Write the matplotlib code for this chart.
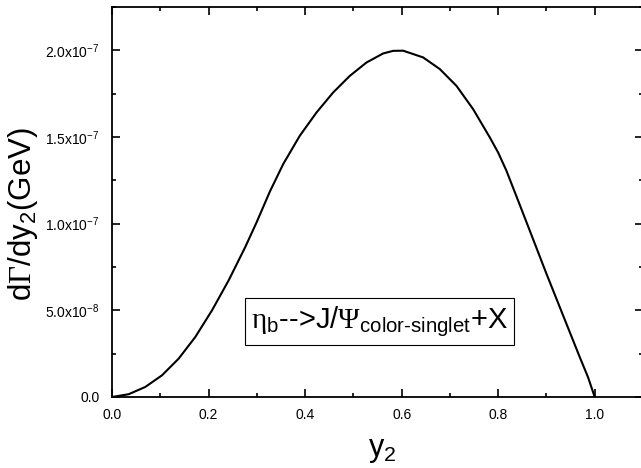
import matplotlib
matplotlib.use("Agg")
import matplotlib.pyplot as plt
from matplotlib.ticker import FixedLocator, FixedFormatter, MultipleLocator

plt.rcParams['font.family'] = ['Liberation Sans', 'DejaVu Sans']
plt.rcParams['mathtext.fontset'] = 'custom'
plt.rcParams['mathtext.rm'] = 'Liberation Sans'
plt.rcParams['mathtext.it'] = 'Liberation Sans:italic'
plt.rcParams['mathtext.bf'] = 'Liberation Sans:bold'
plt.rcParams['mathtext.sf'] = 'Liberation Sans'
plt.rcParams['mathtext.tt'] = 'Liberation Serif'

# data (y in GeV)
y2 = [0, 0.0345, 0.069, 0.1035, 0.138, 0.1725, 0.207, 0.2415, 0.276, 0.2996,
      0.327, 0.3547, 0.389, 0.4238, 0.4582, 0.4928, 0.5273, 0.5617, 0.5825,
      0.6031, 0.6446, 0.679, 0.7136, 0.748, 0.7826, 0.8, 0.817, 0.8413, 0.8654,
      0.900, 0.9344, 0.969, 0.986, 1.0]
rate_e7 = [0, 0.016, 0.058, 0.125, 0.221, 0.346, 0.499, 0.672, 0.865, 1.008,
           1.185, 1.344, 1.507, 1.642, 1.757, 1.853, 1.930, 1.982, 1.997,
           1.998, 1.959, 1.892, 1.795, 1.661, 1.498, 1.41, 1.306, 1.133, 0.960,
           0.711, 0.471, 0.230, 0.115, 0]
rate = [v * 1e-7 for v in rate_e7]

xticks = [0.0, 0.2, 0.4, 0.6, 0.8, 1.0]
xticklabels = ['0.0', '0.2', '0.4', '0.6', '0.8', '1.0']
yticks = [0.0, 5.0e-8, 1.0e-7, 1.5e-7, 2.0e-7]
yticklabels = ['0.0', r'5.0x10$^{\mathregular{-8}}$', r'1.0x10$^{\mathregular{-7}}$',
               r'1.5x10$^{\mathregular{-7}}$', r'2.0x10$^{\mathregular{-7}}$']

fig = plt.figure(figsize=(6.41, 4.68), dpi=100)
W, H = 641, 468
L, R, T, B = 112, 643, 7, 397
ax = fig.add_axes([L / W, (H - B) / H, (R - L) / W, (B - T) / H])

ax.plot(y2, rate, color='black', lw=1.5)
ax.set_xlim(0, 1.1)
ax.set_ylim(0, 2.25e-7)

ax.xaxis.set_major_locator(FixedLocator(xticks))
ax.xaxis.set_major_formatter(FixedFormatter(xticklabels))
ax.xaxis.set_minor_locator(MultipleLocator(0.1))
ax.yaxis.set_major_locator(FixedLocator(yticks))
ax.yaxis.set_major_formatter(FixedFormatter(yticklabels))
ax.yaxis.set_minor_locator(MultipleLocator(2.5e-8))

ax.tick_params(which='both', direction='in', top=True, right=True, width=1.2)
ax.tick_params(which='major', length=6, labelsize=10)
ax.tick_params(axis='y', which='major', pad=9)
ax.tick_params(axis='x', which='major', pad=8)
ax.tick_params(which='minor', length=3)
for s in ax.spines.values():
    s.set_linewidth(1.3)

ax.set_xlabel(r'y$_{\mathregular{2}}$', fontsize=22)
ax.xaxis.set_label_coords(0.508, -0.098)
ax.xaxis.label.set_va('top')
ax.set_ylabel(r'd$\mathtt{\Gamma}$/dy$_{\mathregular{2}}$(GeV)', fontsize=22.5)
ax.yaxis.set_label_coords(-0.136, 0.469)

ax.text(0.554, 0.436e-7,
        r'$\mathtt{\eta}_{\mathregular{b}}$-->J/$\mathtt{\Psi}_{\mathregular{color\text{-}singlet}}$+X',
        fontsize=21, ha='center', va='center',
        bbox=dict(boxstyle='square,pad=0.2', fc='white', ec='black', lw=0.8))

fig.savefig('out.png', dpi=100)
